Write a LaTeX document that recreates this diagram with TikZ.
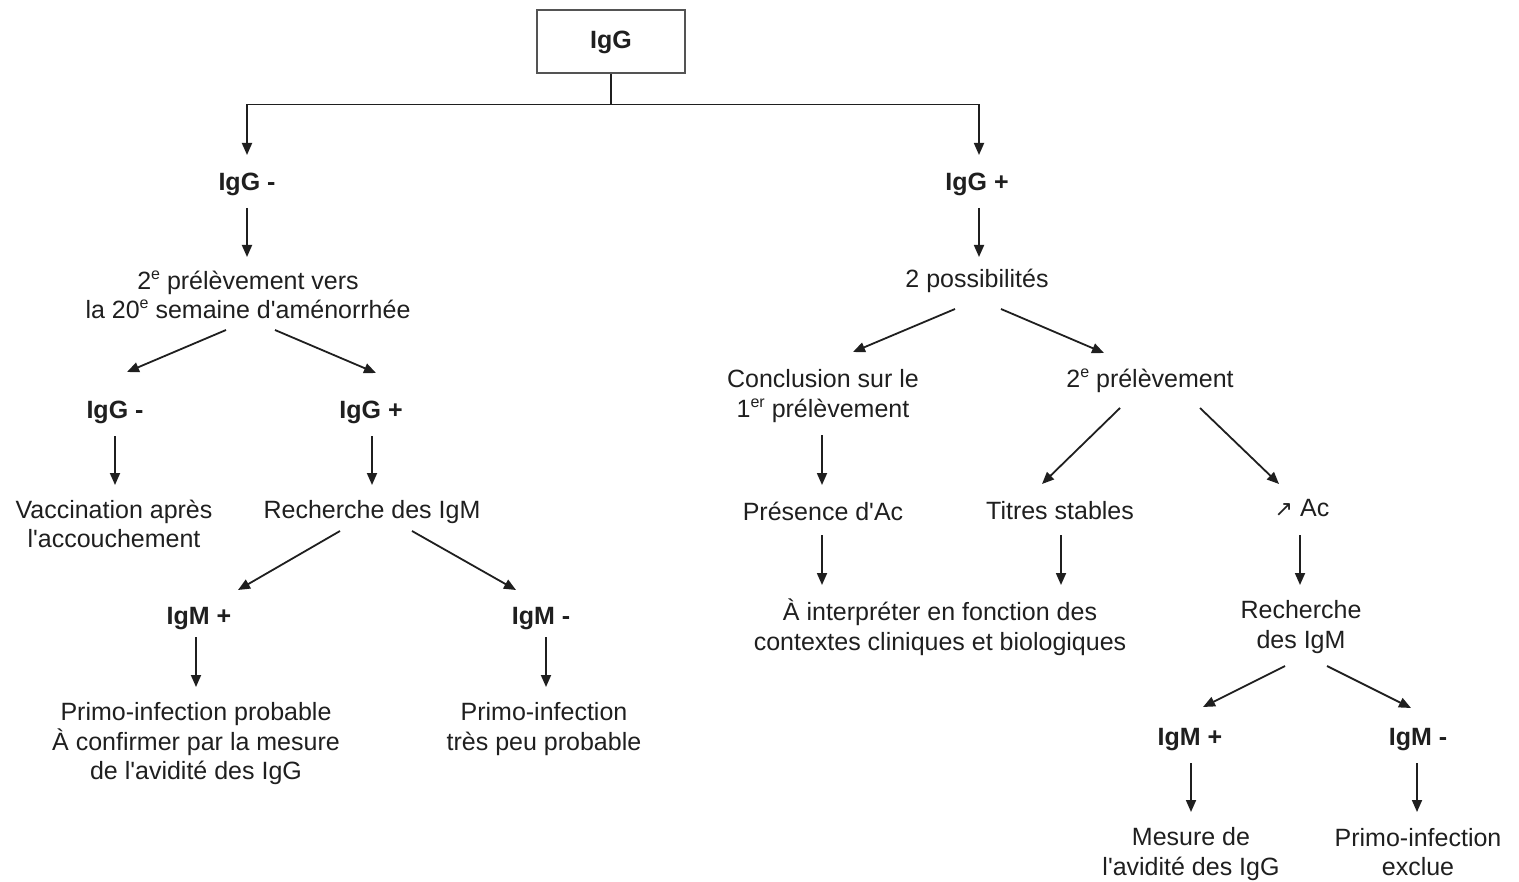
\documentclass[tikz,border=0pt]{standalone}
\usepackage{fontspec}
\setmainfont{Liberation Sans}[Ligatures=TeXOff]
\newfontfamily\symfont{DejaVu Sans}
\usetikzlibrary{arrows.meta}
\definecolor{ink}{rgb}{0.12,0.12,0.12}
\definecolor{boxline}{rgb}{0.33,0.33,0.33}
\newcommand\supx[1]{\raisebox{0.75ex}{\fontsize{8}{8}\selectfont #1}}
\tikzset{
  txt/.style={inner sep=0pt, align=center, text=ink, font=\fontsize{12.5}{14.75}\selectfont},
  lbl/.style={txt, font=\fontsize{12.5}{14.75}\selectfont\bfseries},
  arr/.style={draw=ink, line width=0.9pt, -{Triangle[length=6pt,width=5pt]}},
  topbox/.style={draw=boxline, line width=1pt, minimum width=74pt, minimum height=31.5pt, inner sep=0pt, text=ink, font=\fontsize{12.5}{14.75}\selectfont\bfseries}
}
\begin{document}
\begin{tikzpicture}[x=0.5pt,y=-0.5pt]
\useasboundingbox (0,0) rectangle (1519,882);
% nodes
\node[topbox] (box) at (611,42) {IgG};
\node[lbl] (n1) at (247,184) {IgG -};
\node[lbl] (n2) at (977,184) {IgG +};
\node[txt] (n3) at (248,295) {2\supx{e} prélèvement vers\\la 20\supx{e} semaine d'aménorrhée};
\node[lbl] (n4) at (115,412) {IgG -};
\node[lbl] (n5) at (371,412) {IgG +};
\node[txt] (n6) at (114,524) {Vaccination après\\l'accouchement};
\node[txt] (n7) at (372,512) {Recherche des IgM};
\node[lbl] (n8) at (199,619) {IgM +};
\node[lbl] (n9) at (541,619) {IgM -};
\node[txt] (n10) at (196,744) {Primo-infection probable\\À confirmer par la mesure\\de l'avidité des IgG};
\node[txt] (n11) at (544,729) {Primo-infection\\très peu probable};
\node[txt] (m1) at (977,281) {2 possibilités};
\node[txt] (m2) at (823,396) {Conclusion sur le\\1\supx{er} prélèvement};
\node[txt] (m3) at (1150,381) {2\supx{e} prélèvement};
\node[txt] (m4) at (823,511) {Présence d'Ac};
\node[txt] (m5) at (1060,511) {Titres stables};
\node[txt] (m6) at (1302,508) {{\symfont\fontsize{11}{12}\selectfont ↗} Ac};
\node[txt] (m7) at (940,627) {À interpréter en fonction des\\contextes cliniques et biologiques};
\node[txt] (m8) at (1301,627) {Recherche\\des IgM};
\node[lbl] (m9) at (1190,740) {IgM +};
\node[lbl] (m10) at (1418,740) {IgM -};
\node[txt] (m11) at (1191,854) {Mesure de\\l'avidité des IgG};
\node[txt] (m12) at (1418,852) {Primo-infection\\exclue};
% connectors
\draw[arr] (box.south) -- ++(0,30) -| ([shift={(0,-29)}]n1.center);
\draw[arr] (box.south) -- ++(0,30) -| ([shift={(2,-29)}]n2.center);
\draw[arr] ([shift={(0,24)}]n1.center) -- ([shift={(-1,-38)}]n3.center);
\draw[arr] ([shift={(-22,35)}]n3.center) -- ([shift={(12,-40)}]n4.center);
\draw[arr] ([shift={(27,35)}]n3.center) -- ([shift={(5,-39)}]n5.center);
\draw[arr] ([shift={(0,24)}]n4.center) -- ([shift={(1,-39)}]n6.center);
\draw[arr] ([shift={(1,24)}]n5.center) -- ([shift={(0,-27)}]n7.center);
\draw[arr] ([shift={(-32,19)}]n7.center) -- ([shift={(39,-29)}]n8.center);
\draw[arr] ([shift={(40,19)}]n7.center) -- ([shift={(-25,-29)}]n9.center);
\draw[arr] ([shift={(-3,18)}]n8.center) -- ([shift={(0,-57)}]n10.center);
\draw[arr] ([shift={(5,18)}]n9.center) -- ([shift={(2,-42)}]n11.center);
\draw[arr] ([shift={(2,24)}]n2.center) -- ([shift={(2,-24)}]m1.center);
\draw[arr] ([shift={(-22,28)}]m1.center) -- ([shift={(30,-44)}]m2.center);
\draw[arr] ([shift={(24,28)}]m1.center) -- ([shift={(-46,-28)}]m3.center);
\draw[arr] ([shift={(-1,39)}]m2.center) -- ([shift={(-1,-26)}]m4.center);
\draw[arr] ([shift={(-30,27)}]m3.center) -- ([shift={(-18,-27)}]m5.center);
\draw[arr] ([shift={(50,27)}]m3.center) -- ([shift={(-23,-24)}]m6.center);
\draw[arr] ([shift={(-1,24)}]m4.center) -- ([shift={(-118,-42)}]m7.center);
\draw[arr] ([shift={(1,24)}]m5.center) -- ([shift={(121,-42)}]m7.center);
\draw[arr] ([shift={(-2,27)}]m6.center) -- ([shift={(-1,-42)}]m8.center);
\draw[arr] ([shift={(-16,39)}]m8.center) -- ([shift={(13,-33)}]m9.center);
\draw[arr] ([shift={(26,39)}]m8.center) -- ([shift={(-7,-32)}]m10.center);
\draw[arr] ([shift={(1,23)}]m9.center) -- ([shift={(0,-42)}]m11.center);
\draw[arr] ([shift={(-1,23)}]m10.center) -- ([shift={(-1,-40)}]m12.center);
\end{tikzpicture}
\end{document}
